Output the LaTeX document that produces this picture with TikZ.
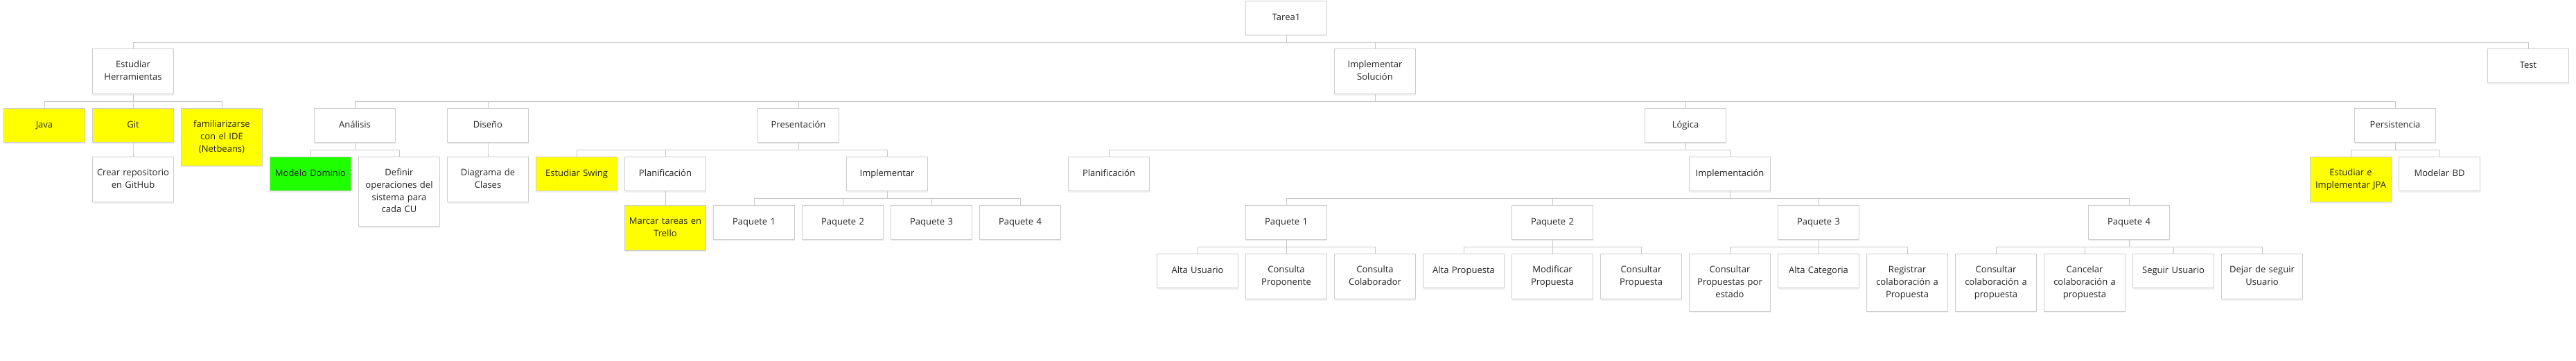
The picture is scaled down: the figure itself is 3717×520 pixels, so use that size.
\documentclass[tikz,border=0pt]{standalone}
\usepackage{fontspec}
\setmainfont{Open Sans}
\usepackage{tikz}
\usetikzlibrary{positioning,shadows}
\definecolor{linegray}{RGB}{200,200,200}
\definecolor{boxgray}{RGB}{205,205,205}
\definecolor{marker}{RGB}{255,255,0}
\definecolor{donegreen}{RGB}{32,255,0}
\definecolor{ink}{RGB}{35,35,35}

\begin{document}
\begin{tikzpicture}[x=1pt, y=-1pt, semithick]
\tikzstyle{task}=[draw=boxgray, line width=1pt, fill=white, text=ink, anchor=north,
  font=\fontsize{13}{17.7}\selectfont, align=center, text width=105pt,
  inner xsep=6pt, inner ysep=14.8pt, minimum height=49pt,
  execute at begin node=\strut, execute at end node=\strut,
  drop shadow={shadow xshift=0.5pt, shadow yshift=-2pt, opacity=0.12}]
\tikzstyle{hilite}=[task, fill=marker]
\tikzstyle{done}=[task, fill=donegreen]
\tikzstyle{every edge}=[draw=linegray, line width=1pt,
  to path={(\tikztostart.south) -- ++(0,10.5) -| (\tikztotarget.north)}]
\useasboundingbox (0,0) rectangle (3717,520);
% root and main phases
\node[task]   (T)     at (1856,0.5) {Tarea1};
\node[task]   (EH)    at (192,70)   {Estudiar\\Herramientas};
\node[task]   (IS)    at (1984,70)  {Implementar\\Soluci\'on};
\node[task]   (Test)  at (3648,70)  {Test};
% second level
\node[hilite] (Java)  at (64,156)   {Java};
\node[hilite] (Git)   at (192,156)  {Git};
\node[hilite] (Fam)   at (320,156)  {familiarizarse\\con el IDE\\(Netbeans)};
\node[task]   (Ana)   at (512,156)  {An\'alisis};
\node[task]   (Dis)   at (704,156)  {Dise\~no};
\node[task]   (Pres)  at (1152,156) {Presentaci\'on};
\node[task]   (Log)   at (2432,156) {L\'ogica};
\node[task]   (Pers)  at (3456,156) {Persistencia};
% third level
\node[task]   (Crear) at (192,226)  {Crear repositorio\\en GitHub};
\node[done]   (MD)    at (448,226)  {Modelo Dominio};
\node[task]   (Def)   at (576,226)  {Definir\\operaciones del\\sistema para\\cada CU};
\node[task]   (Diag)  at (704,226)  {Diagrama de\\Clases};
\node[hilite] (Swing) at (832,226)  {Estudiar Swing};
\node[task]   (PlanP) at (960,226)  {Planificaci\'on};
\node[task]   (Impl)  at (1280,226) {Implementar};
\node[task]   (PlanL) at (1600,226) {Planificaci\'on};
\node[task]   (ImplL) at (2496,226) {Implementaci\'on};
\node[hilite] (JPA)   at (3392,226) {Estudiar e\\Implementar JPA};
\node[task]   (BD)    at (3520,226) {Modelar BD};
% packages
\node[hilite] (Trello) at (960,296) {Marcar tareas en\\Trello};
\node[task]   (PA1)   at (1088,296) {Paquete 1};
\node[task]   (PA2)   at (1216,296) {Paquete 2};
\node[task]   (PA3)   at (1344,296) {Paquete 3};
\node[task]   (PA4)   at (1472,296) {Paquete 4};
\node[task]   (PB1)   at (1856,296) {Paquete 1};
\node[task]   (PB2)   at (2240,296) {Paquete 2};
\node[task]   (PB3)   at (2624,296) {Paquete 3};
\node[task]   (PB4)   at (3072,296) {Paquete 4};
% use cases
\node[task]   (AU)    at (1728,366) {Alta Usuario};
\node[task]   (CP)    at (1856,366) {Consulta\\Proponente};
\node[task]   (CC)    at (1984,366) {Consulta\\Colaborador};
\node[task]   (AP)    at (2112,366) {Alta Propuesta};
\node[task]   (MP)    at (2240,366) {Modificar\\Propuesta};
\node[task]   (CoP)   at (2368,366) {Consultar\\Propuesta};
\node[task]   (CPE)   at (2496,366) {Consultar\\Propuestas por\\estado};
\node[task]   (AC)    at (2624,366) {Alta Categoria};
\node[task]   (RC)    at (2752,366) {Registrar\\colaboraci\'on a\\Propuesta};
\node[task]   (CCP)   at (2880,366) {Consultar\\colaboraci\'on a\\propuesta};
\node[task]   (CaC)   at (3008,366) {Cancelar\\colaboraci\'on a\\propuesta};
\node[task]   (SU)    at (3136,366) {Seguir Usuario};
\node[task]   (DU)    at (3264,366) {Dejar de seguir\\Usuario};
\path
(T)     edge (EH)
        edge (IS)
        edge (Test)
(EH)    edge (Java)
        edge (Git)
        edge (Fam)
(Git)   edge (Crear)
(IS)    edge (Ana)
        edge (Dis)
        edge (Pres)
        edge (Log)
        edge (Pers)
(Ana)   edge (MD)
        edge (Def)
(Dis)   edge (Diag)
(Pres)  edge (Swing)
        edge (PlanP)
        edge (Impl)
(PlanP) edge (Trello)
(Impl)  edge (PA1)
        edge (PA2)
        edge (PA3)
        edge (PA4)
(Log)   edge (PlanL)
        edge (ImplL)
(ImplL) edge (PB1)
        edge (PB2)
        edge (PB3)
        edge (PB4)
(PB1)   edge (AU)
        edge (CP)
        edge (CC)
(PB2)   edge (AP)
        edge (MP)
        edge (CoP)
(PB3)   edge (CPE)
        edge (AC)
        edge (RC)
(PB4)   edge (CCP)
        edge (CaC)
        edge (SU)
        edge (DU)
(Pers)  edge (JPA)
        edge (BD);
\end{tikzpicture}
\end{document}
